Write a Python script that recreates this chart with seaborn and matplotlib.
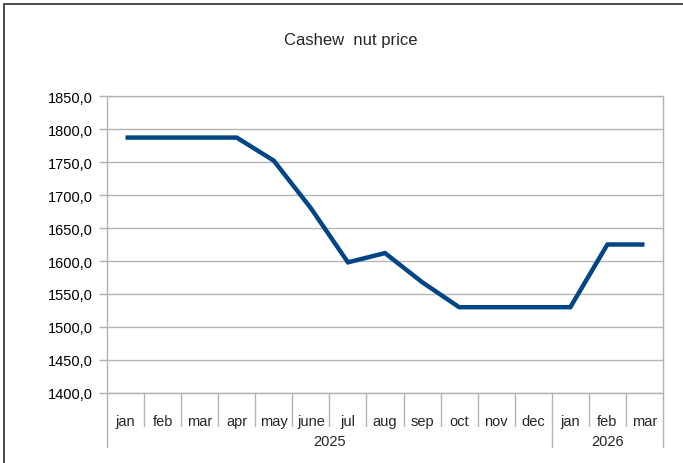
import matplotlib
matplotlib.use("Agg")
import matplotlib.pyplot as plt
from matplotlib.patches import Rectangle
import seaborn as sns
import numpy as np

months = ["jan", "feb", "mar", "apr", "may", "june", "jul", "aug", "sep",
          "oct", "nov", "dec", "jan", "feb", "mar"]
years = ["2025"] * 12 + ["2026"] * 3
prices = [1787, 1787, 1787, 1787, 1752, 1680, 1598, 1612, 1568,
          1530, 1530, 1530, 1530, 1625, 1625]
yticks = list(range(1400, 1851, 50))
title = "Cashew  nut price"

sns.set_style("white")
plt.rcParams["font.family"] = ["Liberation Sans", "DejaVu Sans"]

W, H = 683, 464
fig = plt.figure(figsize=(W / 100, H / 100), dpi=100)
left, right, top, bottom = 107, 663, 97, 394
ax = fig.add_axes([left / W, 1 - bottom / H, (right - left) / W, (bottom - top) / H])

x = np.arange(len(prices))
sns.lineplot(x=x, y=prices, ax=ax, color="#004586", linewidth=3.2, solid_capstyle="butt",
             solid_joinstyle="miter")

ax.set_xlim(-0.5, len(prices) - 0.5)
ax.set_ylim(yticks[0], yticks[-1])
ax.set_yticks(yticks)
ax.set_yticklabels([f"{v:.1f}".replace(".", ",") for v in yticks], fontsize=10.5)
ax.set_xticks([])
ax.set_xlabel("")
ax.set_ylabel("")
grid_c = "#b3b3b3"
ax.grid(axis="y", color=grid_c, linewidth=1)
ax.set_axisbelow(True)
for s in ax.spines.values():
    s.set_color(grid_c)
    s.set_linewidth(1)
ax.tick_params(axis="y", length=6, width=1, color=grid_c, pad=4, left=True, labelcolor="black")

trans = ax.get_xaxis_transform()
ph = bottom - top
# month separators
for i in range(1, len(months)):
    if years[i] != years[i - 1]:
        continue
    ax.plot([i - 0.5, i - 0.5], [0, -33 / ph], transform=trans, color=grid_c, lw=1, clip_on=False)
# year separators
bounds = [0] + [i for i in range(1, len(years)) if years[i] != years[i - 1]] + [len(years)]
for b in bounds:
    ax.plot([b - 0.5, b - 0.5], [0, -54 / ph], transform=trans, color=grid_c, lw=1, clip_on=False)
for i, m in enumerate(months):
    ax.text(i, -28 / ph, m, transform=trans, ha="center", va="center", fontsize=10.5)
for a, b in zip(bounds[:-1], bounds[1:]):
    ax.text((a + b - 1) / 2, -48 / ph, years[a], transform=trans, ha="center", va="center",
            fontsize=10.5)

fig.text(351 / W, 1 - 41 / H, title, ha="center", va="center", fontsize=12)

fig.patches.append(Rectangle((3.5 / W, -0.1), 1.2, 1 - 5 / H + 0.1, transform=fig.transFigure,
                             fill=False, edgecolor="#3c3c3c", linewidth=1.3))

fig.savefig("out.png", dpi=100)
